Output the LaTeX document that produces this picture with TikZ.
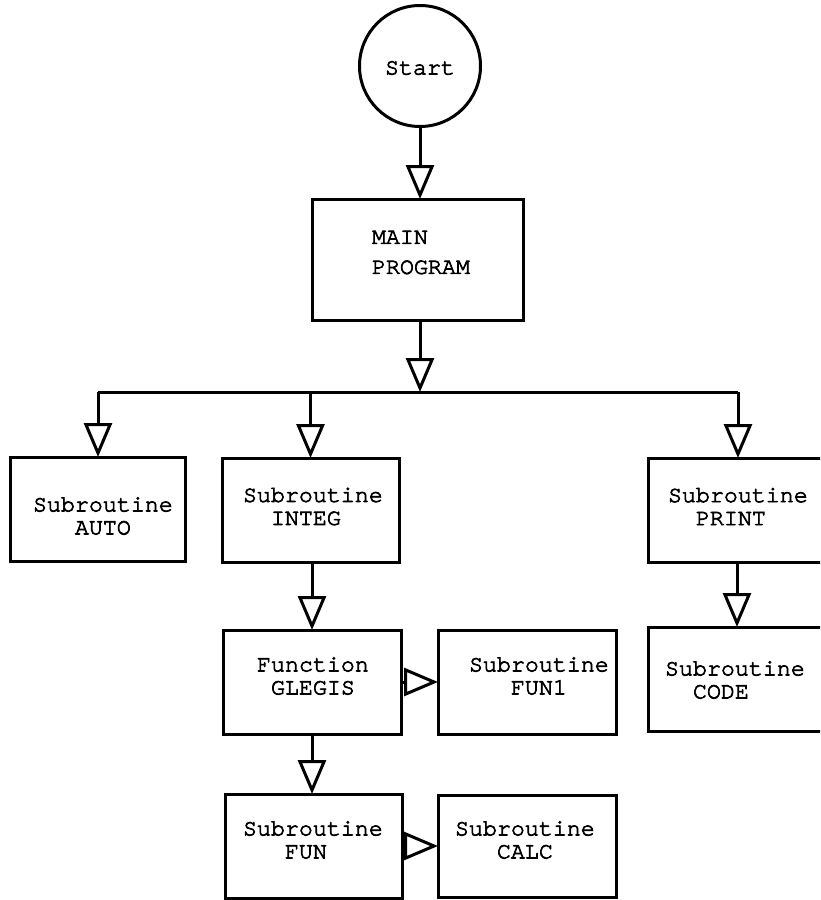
\documentclass[tikz,border=0pt]{standalone}
\usepackage{fontspec}
\newfontfamily\courfont[FakeBold=3]{TeX Gyre Cursor}
\usetikzlibrary{arrows.meta,shapes.geometric}
\newcommand\indchars[1]{\hspace*{#1\dimexpr 0.6em\relax}}
\begin{document}
\begin{tikzpicture}[x=1pt,y=-1pt,
  every node/.style={inner sep=0pt, outer sep=0pt},
  lw/.style={line width=3pt},
  box/.style={draw, lw, rectangle, minimum width=#1, minimum height=104pt},
  box/.default=178pt,
  txt/.style={font=\courfont\fontsize{23.3}{23}\selectfont, align=left, anchor=west},
  arr/.style={lw, -{Triangle[open, length=34pt, width=28pt]}},
  bus/.style={lw}
]
\clip (0,0) rectangle (820,900);
\fill[white] (0,0) rectangle (820,900);

% start circle
\node[draw, lw, circle, minimum size=121pt] (start) at (420,66) {};
\node[txt] (starttxt) at (385,68) {Start};

% main program
\node[draw, lw, rectangle, minimum width=211pt, minimum height=121pt] (main) at (417.5,259.5) {};
\node[txt, font=\courfont\fontsize{23.3}{30}\selectfont] (maintxt) at (372,252.5) {MAIN\\PROGRAM};

% second row
\node[box=175pt] (auto) at (97.5,509) {};
\node[txt] (autotxt) at (33,516) {Subroutine\\\indchars{3}AUTO};
\node[box=177pt] (integ) at (310.5,510) {};
\node[txt] (integtxt) at (243,506.5) {Subroutine\\\indchars{2}INTEG};
\node[box] (print) at (737,510) {};
\node[txt] (printtxt) at (668,506.5) {Subroutine\\\indchars{2}PRINT};

% third row
\node[box] (code) at (737,679) {};
\node[txt] (codetxt) at (665,680) {Subroutine\\\indchars{2}CODE};
\node[box] (glegis) at (312,682) {};
\node[txt] (glegistxt) at (257,676) {Function\\\indchars{1}GLEGIS};
\node[box] (fun1) at (527,682) {};
\node[txt] (fun1txt) at (469,676) {Subroutine\\\indchars{3}FUN1};

% fourth row
\node[box=177pt] (fun) at (313.5,846) {};
\node[txt] (funtxt) at (243,840) {Subroutine\\\indchars{3}FUN};
\node[draw, lw, rectangle, minimum width=178pt, minimum height=102pt] (calc) at (527,846) {};
\node[txt] (calctxt) at (455,840) {Subroutine\\\indchars{3}CALC};

% bus coordinates
\coordinate (busL) at (98,392);
\coordinate (busM) at (420,392);
\coordinate (busR) at (738,392);

% connectors
\draw[arr] (start.south) -- (start.south |- main.north);
\draw[arr] (main.south -| busM) -- (busM);
\draw[bus] (busL) -- (busR);
\draw[arr] (busL) -- (busL |- auto.north);
\draw[arr] (busL -| integ.north) -- (integ.north);
\draw[arr] (busR) -- (busR |- print.north);
\draw[arr] (print.south) -- (code.north);
\draw[arr] (glegis.north |- integ.south) -- (glegis.north);
\draw[arr] (glegis.south) -- (glegis.south |- fun.north);
\draw[arr] (glegis.east) -- (glegis.east -| fun1.west);
\draw[arr] (fun.east) -- (fun.east -| calc.west);
\end{tikzpicture}
\end{document}
